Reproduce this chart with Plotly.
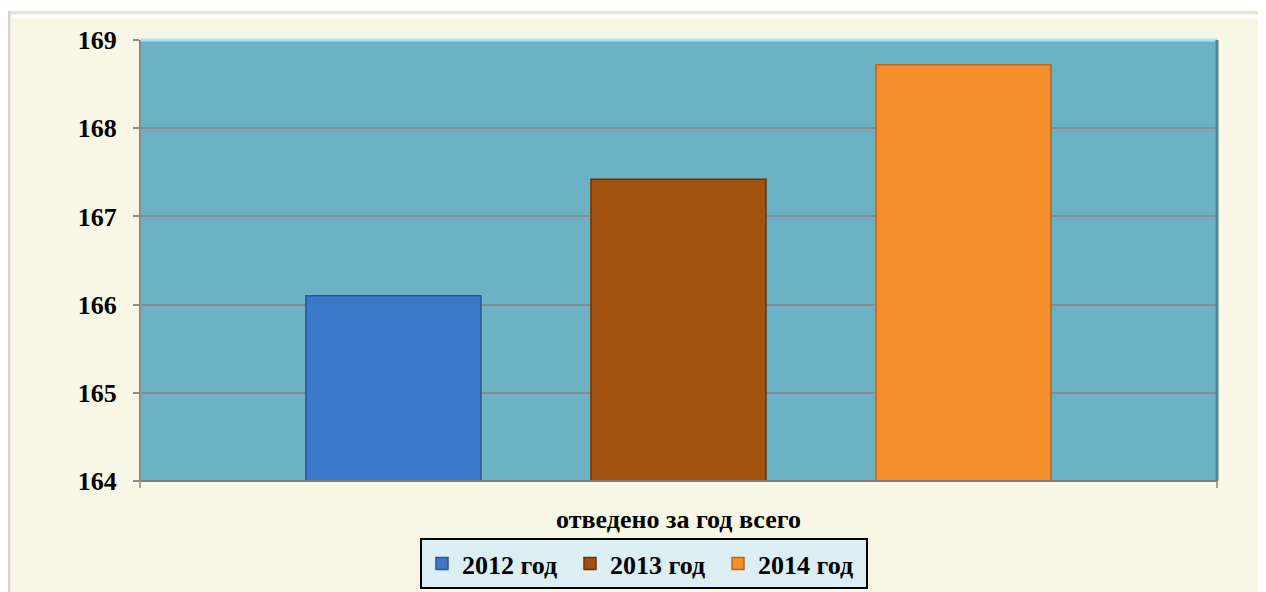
import plotly.graph_objects as go

category = ["отведено за год всего"]
series_names = ["2012 год", "2013 год", "2014 год"]
values = [166.10, 167.42, 168.72]
colors = ["#3d78c8", "#a3510e", "#f58f2b"]
edge_colors = ["#2b5591", "#6a3308", "#b8681c"]
y_ticks = [164, 165, 166, 167, 168, 169]

# figure is placed at (8, 8) in the page (default body margin)
OFF = 8
W, H = 1266 - OFF, 592 - OFF
L, R, T, B = 140 - OFF, 1217 - OFF, 40 - OFF, 481 - OFF
pw, ph = R - L, B - T


def px(x):
    return (x - OFF - L) / pw


def py(y):
    return (B - (y - OFF)) / ph


def cx(x):
    return (x - OFF) / W


def cy(y):
    return 1 - (y - OFF) / H


fig = go.Figure()
for name, v, c, ec in zip(series_names, values, colors, edge_colors):
    fig.add_trace(go.Bar(
        x=category, y=[v], name=name,
        marker=dict(color=c, line=dict(color=ec, width=1.5)),
    ))

font_family = "Liberation Serif, Times New Roman, serif"

shapes = [
    # white outer strip on top, grey frame lines
    dict(type="rect", xref="paper", yref="paper", x0=px(OFF), x1=px(1266), y0=py(11), y1=py(OFF),
         fillcolor="white", line=dict(width=0), layer="below"),
    dict(type="line", xref="paper", yref="paper", x0=px(OFF), x1=px(1266), y0=py(12.5), y1=py(12.5),
         line=dict(color="#e4e2da", width=3), layer="below"),
    dict(type="line", xref="paper", yref="paper", x0=px(OFF + 1), x1=px(OFF + 1), y0=py(592), y1=py(11),
         line=dict(color="#d4d2ca", width=2.5), layer="below"),
    dict(type="line", xref="paper", yref="paper", x0=px(12), x1=px(1266), y0=py(16.5), y1=py(16.5),
         line=dict(color="#ffffff", width=3), layer="below"),
    # plot area bevel / frame
    dict(type="line", xref="paper", yref="paper", x0=0, x1=1, y0=1, y1=1,
         line=dict(color="#a5e6f4", width=3), layer="above"),
    dict(type="line", xref="paper", yref="paper", x0=1, x1=1, y0=0, y1=1,
         line=dict(color="#4d8797", width=3), layer="above"),
    dict(type="line", xref="paper", yref="paper", x0=0, x1=1, y0=0, y1=0,
         line=dict(color="#7d7d7d", width=2), layer="above"),
    dict(type="line", xref="paper", yref="paper", x0=0, x1=0, y0=0, y1=1,
         line=dict(color="#8a8a8a", width=2), layer="above"),
    dict(type="line", xref="paper", yref="paper", x0=0, x1=0, y0=0, y1=py(488),
         line=dict(color="#8a8a8a", width=1.5), layer="above"),
    dict(type="line", xref="paper", yref="paper", x0=1, x1=1, y0=0, y1=py(488),
         line=dict(color="#8a8a8a", width=1.5), layer="above"),
]

fig.update_layout(
    width=W, height=H,
    margin=dict(l=L, r=W - R, t=T, b=H - B, pad=0, autoexpand=False),
    paper_bgcolor="#f8f6e4",
    plot_bgcolor="#6db1c4",
    barmode="group",
    bargap=0.206,
    bargroupgap=0.386,
    font=dict(family=font_family, color="black", size=26),
    showlegend=True,
    legend=dict(
        orientation="h", xref="container", yref="container",
        x=cx(644), xanchor="center", y=cy(538), yanchor="top",
        bgcolor="#dbeef4", bordercolor="black", borderwidth=2,
        font=dict(family=font_family, size=26, color="black", weight="bold"),
        itemwidth=30, traceorder="normal",
        entrywidth=103, entrywidthmode="pixels",
    ),
    shapes=shapes,
    xaxis=dict(
        showticklabels=False, showgrid=False, zeroline=False, showline=False,
        automargin=False,
        title=dict(text="<b>отведено за год всего</b>", standoff=28,
                   font=dict(family=font_family, size=26, color="black")),
    ),
    yaxis=dict(
        range=[164, 169], tickvals=y_ticks, ticktext=[f"<b>{t}</b>" for t in y_ticks],
        showgrid=True, gridcolor="#8a8a8a", gridwidth=1.5, zeroline=False,
        ticks="outside", ticklen=6, tickcolor="#8a8a8a", tickwidth=1.5,
        ticklabelstandoff=11, automargin=False,
        tickfont=dict(family=font_family, size=26, color="black"),
        showline=False,
    ),
)

fig.write_html("out.html")
